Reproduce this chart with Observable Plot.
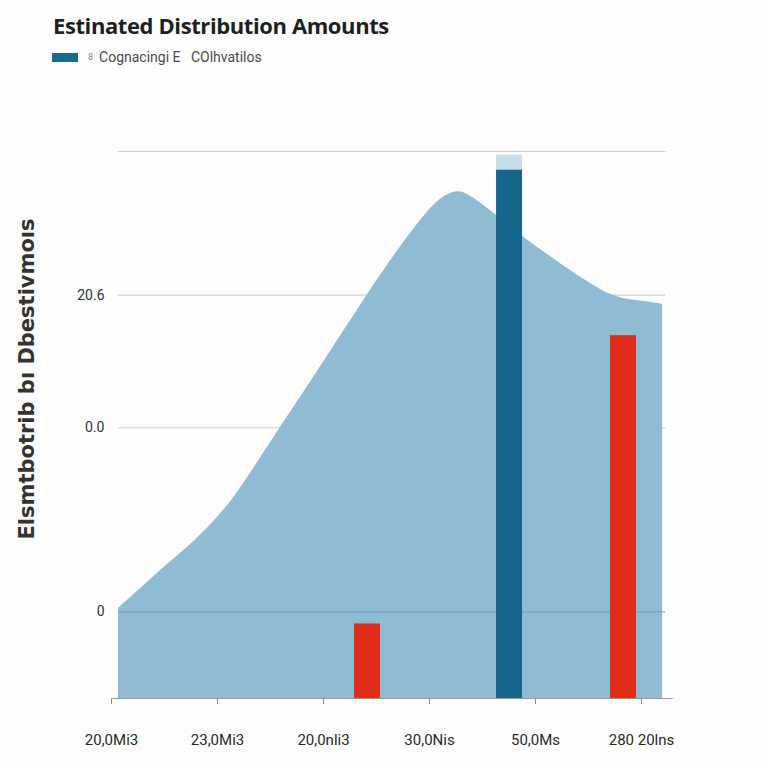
<!DOCTYPE html>
<html>
<head>
<meta charset="utf-8">
<script src="https://cdn.jsdelivr.net/npm/d3@7"></script>
<script src="https://cdn.jsdelivr.net/npm/@observablehq/plot@0.6"></script>
<style>
  html, body { margin: 0; padding: 0; background: #fdfdfd; width: 768px; height: 768px; overflow: hidden; }
  #header { position: relative; height: 80px; font-family: "Open Sans", "DejaVu Sans", sans-serif; }
  #title { position: absolute; left: 53px; top: 10px; font-size: 22px; font-weight: 700; color: #1f1f1f; letter-spacing: -0.4px; }
  #legend { position: absolute; left: 52px; top: 49px; display: flex; align-items: center; font-family: "Liberation Sans Narrow", "Roboto", sans-serif; font-size: 14px; color: #4a4a4a; }
  #legend .sw { width: 26px; height: 9px; background: #1a6a8e; margin-right: 10px; }
  #legend .b { font-size: 9px; color: #888; margin-right: 6px; }
</style>
</head>
<body>
<div id="header">
  <div id="title">Estinated Distribution Amounts</div>
  <div id="legend"><span class="sw"></span><span class="b">8</span><span>Cognacingi E&nbsp;&nbsp;&nbsp;COlhvatilos</span></div>
</div>
<div id="chart"></div>
<script>
// Area profile
const areaX = [0.066, 0.30, 0.53, 0.78, 1.0, 1.17, 1.31, 1.59, 1.94, 2.42, 2.73, 3.04, 3.18, 3.28, 3.39, 3.62, 3.89, 4.36, 4.74, 4.99, 5.20];
const areaY = [2, 14, 26, 38, 51, 63, 75, 100, 130, 173, 199, 222, 227, 229, 226, 216, 203, 184, 170, 169, 167];

// Bars
const barX = [2.415, 3.755, 4.83];
const barValue = [-6.5, 240, 150];
const barColor = ["#dd2e1a", "#15668a", "#dd2e1a"];
const capTop = 248; // light cap above the dark bar
const capBarIndex = 1;

// Axes
const xTicks = [0, 1, 2, 3, 4, 5];
const xTickLabels = ["20,0Mi3", "23,0Mi3", "20,0nli3", "30,0Nis", "50,0Ms", "280 20lns"];
const yTicks = [0, 100, 172, 250];
const yTickLabels = ["0", "0.0", "20.6", ""];
const yMin = -47, yMax = 250;
const xMax = 5.3;
const barWidth = 0.245;
const yLabel = "Elsmtbotrib bı Dbestivmoıs";

const area = areaX.map((x, i) => ({x, y: areaY[i]}));
const bars = barX.map((x, i) => ({x1: x - barWidth / 2, x2: x + barWidth / 2, y: barValue[i], color: barColor[i]}));
const cap = [{x1: bars[capBarIndex].x1, x2: bars[capBarIndex].x2, y1: barValue[capBarIndex], y2: capTop}];
const gridX1 = areaX[0], gridX2 = areaX[areaX.length - 1];

const plot = Plot.plot({
  width: 768,
  height: 688,
  marginLeft: 111,
  marginRight: 768 - 111 - xMax * 106,
  marginTop: 71,
  marginBottom: 70,
  style: {background: "transparent", fontFamily: "Roboto, 'DejaVu Sans', sans-serif"},
  x: {domain: [0, xMax]},
  y: {domain: [yMin, yMax]},
  marks: [
    Plot.ruleY(yTicks.filter(d => d !== 0), {x1: gridX1, x2: gridX2 + 0.03, stroke: "#cfcfcf", strokeWidth: 1.2}),
    Plot.areaY(area, {x: "x", y1: yMin, y2: "y", fill: "#8fbcd4", curve: "basis"}),
    Plot.ruleY([0], {x1: gridX1, x2: gridX2 + 0.03, stroke: "#6f9db4", strokeOpacity: 0.8, strokeWidth: 1.2}),
    Plot.rect(bars, {x1: "x1", x2: "x2", y1: yMin, y2: "y", fill: "color"}),
    Plot.rect(cap, {x1: "x1", x2: "x2", y1: "y1", y2: "y2", fill: "#c9dde8"}),
    Plot.axisX({ticks: xTicks, tickFormat: (d, i) => xTickLabels[i], tickSize: 6, tickPadding: 30, fontSize: 15, stroke: "#888", color: "#2a2a2a", label: null}),
    Plot.ruleY([yMin], {stroke: "#999", strokeWidth: 1}),
    Plot.axisY({ticks: yTicks, tickFormat: (d, i) => yTickLabels[i], tickSize: 0, tickPadding: 7, fontSize: 14, color: "#333", label: null}),
    Plot.text([yLabel], {frameAnchor: "left", textAnchor: "middle", rotate: -90, dx: -84, dy: -46, fontSize: 21, fontWeight: 600, fontFamily: "'DejaVu Sans', sans-serif", fill: "#333"})
  ]
});
document.getElementById("chart").appendChild(plot);
</script>
</body>
</html>
